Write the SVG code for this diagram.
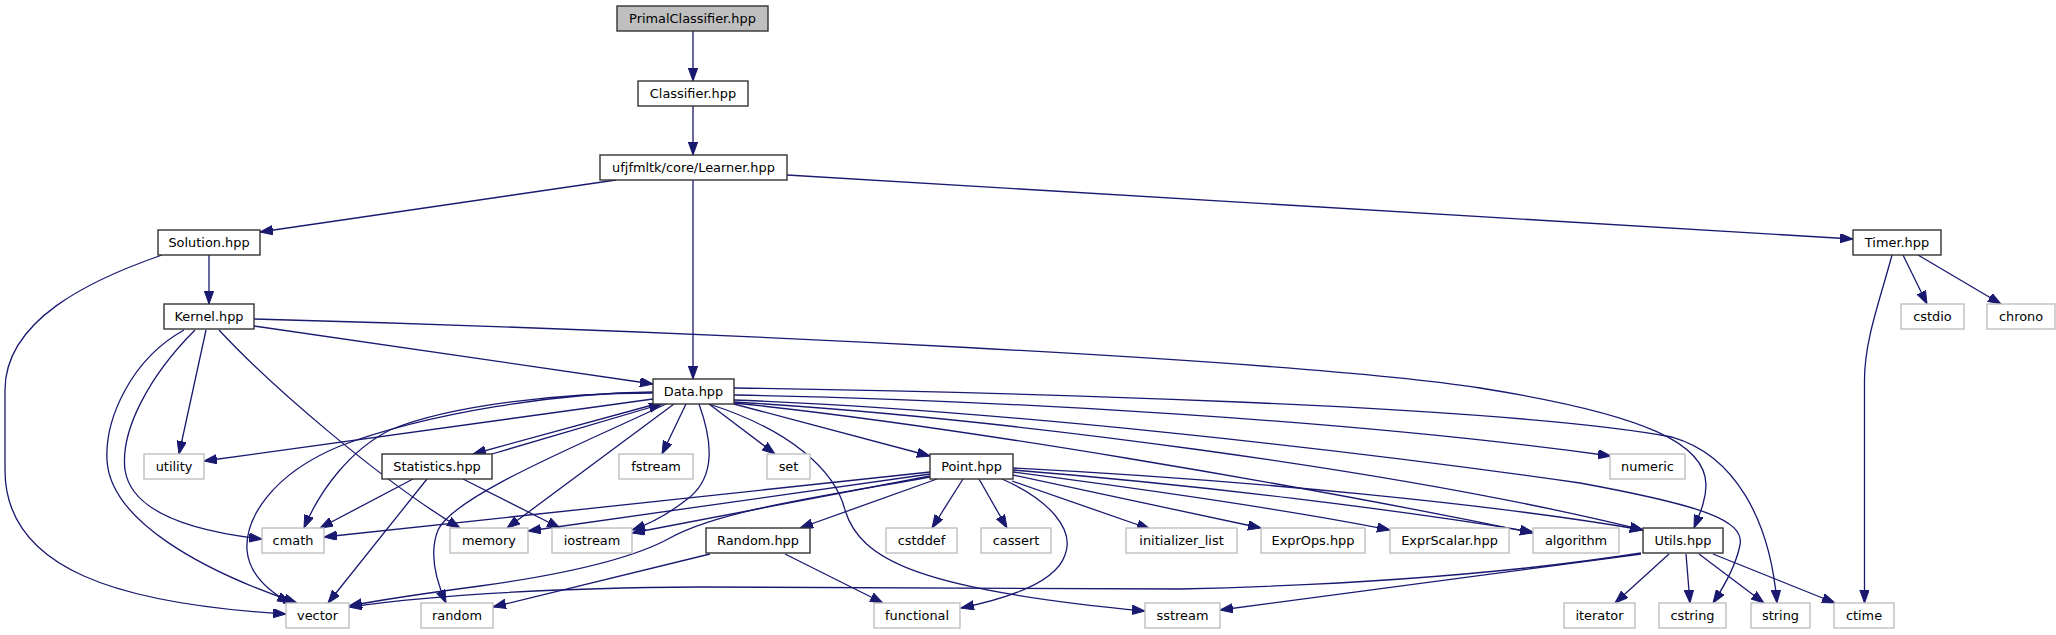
<svg xmlns="http://www.w3.org/2000/svg" width="2056" height="635" viewBox="0 0 2056 635">
<style>
.n rect{fill:#fff;stroke:#333;stroke-width:1.4}
.r rect{fill:#bfbfbf;stroke:#333;stroke-width:1.4}
.u rect{fill:#fff;stroke:#bfbfbf;stroke-width:1.4}
text{font-family:"DejaVu Sans","Liberation Sans",sans-serif;font-size:12.9px;fill:#000;text-anchor:middle}
#edges path{fill:none;stroke:#191970;stroke-width:1.3}
</style>
<defs>
<marker id="ah" markerUnits="userSpaceOnUse" markerWidth="14" markerHeight="10" refX="13" refY="4.7" orient="auto">
<path d="M0,0 L13,4.7 L0,9.4 Z" fill="#191970" stroke="#191970" stroke-width="1"/>
</marker>
</defs>
<rect width="2056" height="635" fill="#fff"/>
<g id="edges" marker-end="url(#ah)">
<path d="M693,31 L693,81"/>
<path d="M693,106 L693,155"/>
<path d="M616,180 L260,232"/>
<path d="M693,180 L693,379"/>
<path d="M787,175 L1853,239"/>
<path d="M209,255 L209,304"/>
<path d="M162,255 C90,280 5,320 5,390 L5,470 C5,570 120,604 286,614"/>
<path d="M1903,255 L1927,304"/>
<path d="M1918,255 L2001,304"/>
<path d="M1892,255 C1880,300 1864.5,340 1864.5,380 L1864.5,603"/>
<path d="M254,326 L653,384"/>
<path d="M254,319 C700,331 1300,360 1480,388 C1650,415 1706,445 1706,485 C1706,500 1700,513 1694,528"/>
<path d="M206,330 L179,454"/>
<path d="M219,330 C270,385 380,480 460,528"/>
<path d="M195,330 C150,375 120,430 125,470 C132,515 200,532 262,539"/>
<path d="M184,330 C130,360 105,420 107,460 C110,520 200,570 297,603"/>
<path d="M653,399 L204,461"/>
<path d="M656,404 L473,454"/>
<path d="M492,454 L662,404"/>
<path d="M686,404 L662,454"/>
<path d="M709,404 L775,454"/>
<path d="M734,404 L930,456"/>
<path d="M666,404 C580,445 455,495 438,530 C428,555 438,585 446,603"/>
<path d="M674,404 L507,528"/>
<path d="M699,404 C712,440 716,475 690,497 C670,513 650,524 632,530"/>
<path d="M653,393 C560,393 450,405 390,430 C350,450 320,490 304,528"/>
<path d="M653,392 C560,393 430,412 340,446 C270,475 245,520 247,550 C249,575 270,592 290,603"/>
<path d="M709,404 C790,430 835,470 845,510 C860,560 920,590 1145,611"/>
<path d="M734,388 C1000,392 1500,405 1672,437 C1735,455 1770,520 1777,603"/>
<path d="M734,395 C1000,400 1350,420 1611,456"/>
<path d="M734,400 C1000,410 1350,450 1580,483 C1700,505 1745,520 1740,545 C1736,565 1725,585 1713,603"/>
<path d="M734,402 C1000,418 1400,470 1643,530"/>
<path d="M734,403 C950,425 1300,485 1533,533"/>
<path d="M413,479 L320,528"/>
<path d="M427,479 L328,603"/>
<path d="M463,479 L560,528"/>
<path d="M930,472 L324,537"/>
<path d="M930,474 L528,531"/>
<path d="M930,476 L632,533"/>
<path d="M930,477 C830,495 720,510 670,538 C630,560 560,575 480,586 C420,594 380,600 349,606"/>
<path d="M937,479 L800,528"/>
<path d="M963,479 L932,528"/>
<path d="M979,479 L1007,528"/>
<path d="M1002,479 C1050,500 1075,530 1065,555 C1055,585 1000,600 961,608"/>
<path d="M1012,481 L1150,529"/>
<path d="M1013,475 L1261,528"/>
<path d="M1013,472 C1150,490 1300,512 1390,530"/>
<path d="M1013,470 C1200,485 1400,510 1533,532"/>
<path d="M1013,468 C1250,480 1500,505 1643,530"/>
<path d="M710,554 L493,607"/>
<path d="M785,554 L883,603"/>
<path d="M1641,553 C1500,575 1350,585 1180,589 L700,587 C560,588 440,594 349,607"/>
<path d="M1641,554 L1220,610"/>
<path d="M1669,554 L1615,603"/>
<path d="M1686,554 L1690,603"/>
<path d="M1699,554 L1764,603"/>
<path d="M1713,554 L1835,603"/>
</g>
<g id="n_primal" class="r"><rect x="617" y="6" width="151" height="25"/><text x="692.5" y="22.5">PrimalClassifier.hpp</text></g>
<g id="n_classifier" class="n"><rect x="638" y="81" width="110" height="25"/><text x="693" y="97.5">Classifier.hpp</text></g>
<g id="n_learner" class="n"><rect x="600" y="155" width="187" height="25"/><text x="693.5" y="171.5">ufjfmltk/core/Learner.hpp</text></g>
<g id="n_solution" class="n"><rect x="158" y="230" width="102" height="25"/><text x="209" y="246.5">Solution.hpp</text></g>
<g id="n_kernel" class="n"><rect x="164" y="304" width="90" height="25"/><text x="209" y="320.5">Kernel.hpp</text></g>
<g id="n_timer" class="n"><rect x="1853" y="230" width="88" height="25"/><text x="1897" y="246.5">Timer.hpp</text></g>
<g id="n_cstdio" class="u"><rect x="1901" y="304" width="63" height="25"/><text x="1932.5" y="320.5">cstdio</text></g>
<g id="n_chrono" class="u"><rect x="1987" y="304" width="68" height="25"/><text x="2021" y="320.5">chrono</text></g>
<g id="n_data" class="n"><rect x="653" y="379" width="81" height="25"/><text x="693.5" y="395.5">Data.hpp</text></g>
<g id="n_utility" class="u"><rect x="144" y="454" width="60" height="25"/><text x="174" y="470.5">utility</text></g>
<g id="n_statistics" class="n"><rect x="382" y="454" width="110" height="25"/><text x="437" y="470.5">Statistics.hpp</text></g>
<g id="n_fstream" class="u"><rect x="619" y="454" width="74" height="25"/><text x="656" y="470.5">fstream</text></g>
<g id="n_set" class="u"><rect x="767" y="454" width="43" height="25"/><text x="788.5" y="470.5">set</text></g>
<g id="n_point" class="n"><rect x="930" y="454" width="83" height="25"/><text x="971.5" y="470.5">Point.hpp</text></g>
<g id="n_numeric" class="u"><rect x="1610" y="454" width="75" height="25"/><text x="1647.5" y="470.5">numeric</text></g>
<g id="n_cmath" class="u"><rect x="262" y="528" width="62" height="25"/><text x="293" y="544.5">cmath</text></g>
<g id="n_memory" class="u"><rect x="450" y="528" width="78" height="25"/><text x="489" y="544.5">memory</text></g>
<g id="n_iostream" class="u"><rect x="552" y="528" width="80" height="25"/><text x="592" y="544.5">iostream</text></g>
<g id="n_randomhpp" class="n"><rect x="706" y="528" width="104" height="25"/><text x="758" y="544.5">Random.hpp</text></g>
<g id="n_cstddef" class="u"><rect x="886" y="528" width="71" height="25"/><text x="921.5" y="544.5">cstddef</text></g>
<g id="n_cassert" class="u"><rect x="981" y="528" width="70" height="25"/><text x="1016" y="544.5">cassert</text></g>
<g id="n_initlist" class="u"><rect x="1126" y="528" width="111" height="25"/><text x="1181.5" y="544.5">initializer_list</text></g>
<g id="n_exprops" class="u"><rect x="1261" y="528" width="104" height="25"/><text x="1313" y="544.5">ExprOps.hpp</text></g>
<g id="n_exprscalar" class="u"><rect x="1390" y="528" width="119" height="25"/><text x="1449.5" y="544.5">ExprScalar.hpp</text></g>
<g id="n_algorithm" class="u"><rect x="1533" y="528" width="86" height="25"/><text x="1576" y="544.5">algorithm</text></g>
<g id="n_utils" class="n"><rect x="1643" y="528" width="80" height="25"/><text x="1683" y="544.5">Utils.hpp</text></g>
<g id="n_vector" class="u"><rect x="286" y="603" width="63" height="25"/><text x="317.5" y="619.5">vector</text></g>
<g id="n_random" class="u"><rect x="421" y="603" width="72" height="25"/><text x="457" y="619.5">random</text></g>
<g id="n_functional" class="u"><rect x="874" y="603" width="86" height="25"/><text x="917" y="619.5">functional</text></g>
<g id="n_sstream" class="u"><rect x="1145" y="603" width="75" height="25"/><text x="1182.5" y="619.5">sstream</text></g>
<g id="n_iterator" class="u"><rect x="1564" y="603" width="71" height="25"/><text x="1599.5" y="619.5">iterator</text></g>
<g id="n_cstring" class="u"><rect x="1659" y="603" width="67" height="25"/><text x="1692.5" y="619.5">cstring</text></g>
<g id="n_string" class="u"><rect x="1751" y="603" width="59" height="25"/><text x="1780.5" y="619.5">string</text></g>
<g id="n_ctime" class="u"><rect x="1834" y="603" width="60" height="25"/><text x="1864" y="619.5">ctime</text></g>
</svg>
